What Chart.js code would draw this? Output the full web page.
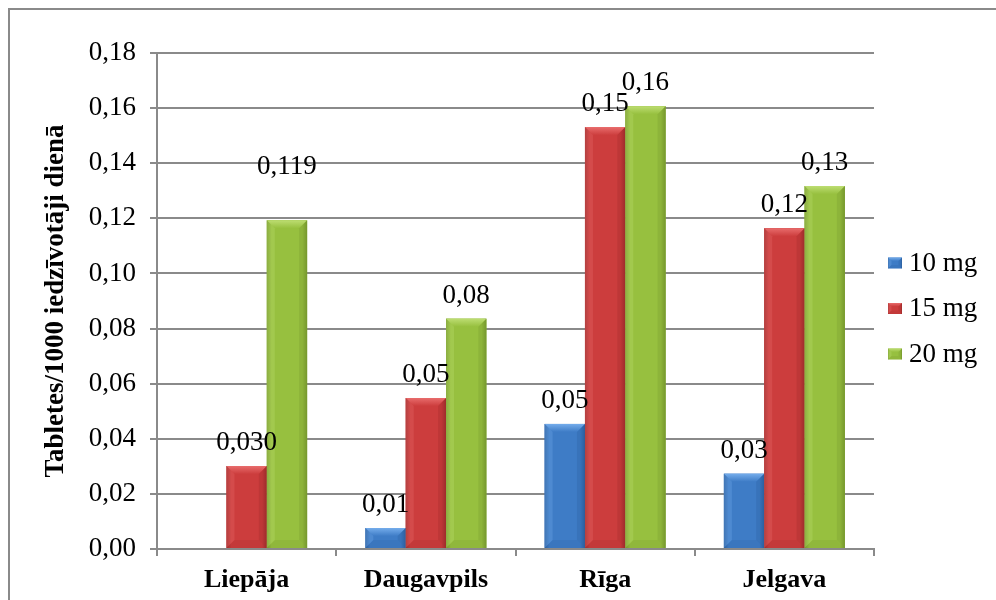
<!DOCTYPE html>
<html>
<head>
<meta charset="utf-8">
<script src="https://cdn.jsdelivr.net/npm/chart.js@4/dist/chart.umd.min.js"></script>
<style>
  html, body { margin: 0; padding: 0; background: #fff; overflow: hidden; }
  #wrap { position: relative; width: 996px; height: 600px; }
  #frame { position: absolute; left: 8px; top: 8px; width: 1200px; height: 800px;
           border-top: 2px solid #8a8a8a; border-left: 2px solid #8a8a8a; }
  canvas { position: absolute; left: 0; top: 0; }
</style>
</head>
<body>
<div id="wrap">
  <div id="frame"></div>
  <canvas id="chart" width="996" height="600"></canvas>
</div>
<script>
// Cities and daily tablet use per 1000 inhabitants, by dose
const categories = ['Liepāja', 'Daugavpils', 'Rīga', 'Jelgava'];
const seriesNames = ['10 mg', '15 mg', '20 mg'];
const dose10 = [null, 0.0076, 0.0454, 0.0273];
const dose15 = [0.0301, 0.0548, 0.1531, 0.1164];
const dose20 = [0.1193, 0.0836, 0.1607, 0.1317];
// decimals shown in the value labels for each city
const labelDecimals = [3, 2, 2, 2];
const yTicks = { min: 0, max: 0.18, step: 0.02 };

const palette = [
  { body: '#3e7cc6', light: '#74aceb', dark: '#2c5f9e' },
  { body: '#cc3d3d', light: '#e86c6c', dark: '#9e2c2c' },
  { body: '#97c03f', light: '#bddd72', dark: '#76982e' }
];

const SERIF = "'Liberation Serif', 'Times New Roman', serif";
const GRID = '#8a8a8a';

function fmt(v, d) { return v.toFixed(d).replace('.', ','); }

// Bevelled bar faces drawn over each bar rectangle
function bevel(ctx, left, top, w, h, col) {
  const right = left + w, bottom = top + h;
  const b = Math.min(8, w / 4, h / 2);
  const g = ctx.createLinearGradient(left, 0, right, 0);
  g.addColorStop(0, col.dark);
  g.addColorStop(0.12, col.body);
  g.addColorStop(0.5, col.body);
  g.addColorStop(0.88, col.body);
  g.addColorStop(1, col.dark);
  ctx.fillStyle = g;
  ctx.fillRect(left, top, w, h);
  // top face
  const tg = ctx.createLinearGradient(0, top, 0, top + b);
  tg.addColorStop(0, col.light);
  tg.addColorStop(1, col.body);
  ctx.fillStyle = tg;
  ctx.beginPath();
  ctx.moveTo(left, top); ctx.lineTo(right, top);
  ctx.lineTo(right - b, top + b); ctx.lineTo(left + b, top + b);
  ctx.closePath(); ctx.fill();
  // left face
  ctx.globalAlpha = 0.3;
  ctx.fillStyle = col.light;
  ctx.beginPath();
  ctx.moveTo(left, top); ctx.lineTo(left + b, top + b);
  ctx.lineTo(left + b, bottom - b); ctx.lineTo(left, bottom);
  ctx.closePath(); ctx.fill();
  // right face
  ctx.fillStyle = col.dark;
  ctx.beginPath();
  ctx.moveTo(right, top); ctx.lineTo(right - b, top + b);
  ctx.lineTo(right - b, bottom - b); ctx.lineTo(right, bottom);
  ctx.closePath(); ctx.fill();
  // bottom face
  ctx.globalAlpha = 0.2;
  ctx.beginPath();
  ctx.moveTo(left, bottom); ctx.lineTo(left + b, bottom - b);
  ctx.lineTo(right - b, bottom - b); ctx.lineTo(right, bottom);
  ctx.closePath(); ctx.fill();
  ctx.globalAlpha = 1;
}

const bevelBars = {
  id: 'bevelBars',
  afterDatasetsDraw(chart) {
    const ctx = chart.ctx;
    ctx.save();
    chart.data.datasets.forEach((ds, di) => {
      const meta = chart.getDatasetMeta(di);
      meta.data.forEach((el, i) => {
        if (ds.data[i] == null) return;
        const p = el.getProps(['x', 'y', 'base', 'width'], true);
        const top = Math.min(p.y, p.base), h = Math.abs(p.base - p.y);
        bevel(ctx, p.x - p.width / 2, top, p.width, h, palette[di]);
      });
    });
    ctx.restore();
  }
};

// Value labels above the bars; the tall Liepāja 20 mg label sits higher
const labelLift = { '2-0': 30 };
const valueLabels = {
  id: 'valueLabels',
  afterDatasetsDraw(chart) {
    const ctx = chart.ctx;
    ctx.save();
    ctx.font = '27px ' + SERIF;
    ctx.fillStyle = '#000';
    ctx.textAlign = 'center';
    ctx.textBaseline = 'alphabetic';
    chart.data.datasets.forEach((ds, di) => {
      const meta = chart.getDatasetMeta(di);
      meta.data.forEach((el, i) => {
        const v = ds.data[i];
        if (v == null) return;
        const lift = labelLift[di + '-' + i] || 0;
        ctx.fillText(fmt(v, labelDecimals[i]), el.x, el.y - 16 - lift);
      });
    });
    ctx.restore();
  }
};

// Legend to the right of the plot
const sideLegend = {
  id: 'sideLegend',
  afterDraw(chart) {
    const ctx = chart.ctx;
    const x0 = chart.chartArea.right + 14;
    const yMid = 308, gap = 45.5;
    ctx.save();
    ctx.font = '27px ' + SERIF;
    ctx.textBaseline = 'middle';
    ctx.textAlign = 'left';
    chart.data.datasets.forEach((ds, di) => {
      const y = yMid + (di - 1) * gap;
      bevel(ctx, x0, y - 5, 14, 11, palette[di]);
      ctx.fillStyle = '#000';
      ctx.fillText(ds.label, x0 + 21, y + 1);
    });
    ctx.restore();
  }
};

const seriesValues = [dose10, dose15, dose20];

new Chart(document.getElementById('chart'), {
  type: 'bar',
  data: {
    labels: categories,
    datasets: seriesNames.map((name, k) => ({
      label: name,
      data: seriesValues[k],
      backgroundColor: palette[k].body,
      borderWidth: 0,
      categoryPercentage: 0.675,
      barPercentage: 1.0
    }))
  },
  options: {
    responsive: false,
    animation: false,
    layout: { padding: { top: 53, right: 122, bottom: 0, left: 0 } },
    plugins: {
      legend: { display: false },
      tooltip: { enabled: false }
    },
    scales: {
      x: {
        afterFit(scale) { scale.height = 51; },
        grid: { drawOnChartArea: false, drawTicks: true, tickLength: 7, color: GRID, lineWidth: 2 },
        border: { display: true, color: GRID, width: 2 },
        ticks: { color: '#000', font: { family: SERIF, size: 26, weight: 'bold' }, padding: 9 }
      },
      y: {
        min: yTicks.min,
        max: yTicks.max,
        afterFit(scale) { scale.width = 157; },
        grid: { color: GRID, lineWidth: 2, tickLength: 7 },
        border: { display: true, color: GRID, width: 2 },
        ticks: {
          stepSize: yTicks.step,
          color: '#000',
          font: { family: SERIF, size: 27 },
          padding: 14,
          callback: v => fmt(v, 2)
        },
        title: {
          display: true,
          text: 'Tabletes/1000 iedzīvotāji dienā',
          color: '#000',
          font: { family: SERIF, size: 27, weight: 'bold', lineHeight: 1.2 },
          padding: { top: 40, bottom: 0 }
        }
      }
    }
  },
  plugins: [bevelBars, valueLabels, sideLegend]
});
</script>
</body>
</html>
